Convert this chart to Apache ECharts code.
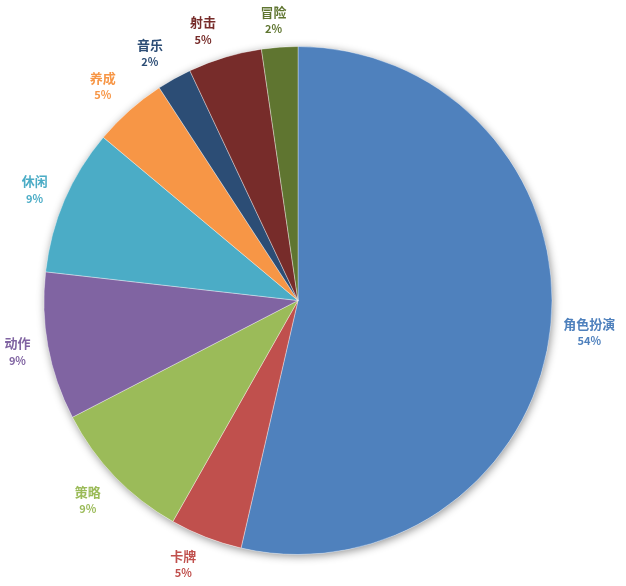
<!DOCTYPE html>
<html><head><meta charset="utf-8">
<script src="https://cdn.jsdelivr.net/npm/echarts@6/dist/echarts.min.js"></script>
<style>html,body{margin:0;padding:0;background:#fff}#c{width:626px;height:586px}</style>
</head><body><div id="c"></div>
<script>
var categories = ['角色扮演','卡牌','策略','动作','休闲','养成','音乐','射击','冒险'];
var values = [53.6, 4.6, 9.2, 9.4, 9.3, 4.7, 2.2, 4.7, 2.3];
var colors = ['#4F81BD','#C0504D','#9BBB59','#8064A2','#4BACC6','#F79646','#2C4D75','#772C2A','#5F7530'];

var CX = 298, CY = 300.5, R = 254, GAP = 13;
var total = values.reduce(function(a,b){return a+b;},0);
var midAngles = [];
(function(){ var acc = 0; for (var i=0;i<values.length;i++){ var a0 = acc/total*360; acc += values[i]; var a1 = acc/total*360; midAngles.push((a0+a1)/2*Math.PI/180);} })();

var chart = echarts.init(document.getElementById('c'), null, {renderer:'canvas'});
var data = categories.map(function(n,i){
  return {name:n, value:values[i], itemStyle:{color:colors[i]},
    label:{rich:{n:{color:colors[i]}, p:{color:colors[i]}}}};
});
chart.setOption({
  animation:false,
  series:[
    {type:'pie', silent:true, center:[CX,CY], radius:R, startAngle:90,
     label:{show:false}, labelLine:{show:false},
     itemStyle:{color:'#ffffff', shadowBlur:9, shadowColor:'rgba(0,0,0,0.42)', shadowOffsetX:1, shadowOffsetY:2},
     data:[{value:1,name:'bg'}]},
    {type:'pie', center:[CX,CY], radius:R, startAngle:90, clockwise:true,
     avoidLabelOverlap:false, percentPrecision:2,
     itemStyle:{borderColor:'rgba(255,255,255,0.6)', borderWidth:0.6},
     labelLine:{show:false},
     label:{show:true, position:'outside', align:'center',
       formatter:function(p){ return '{n|'+p.name+'}\n{p|'+Math.round(p.percent)+'%}'; },
       rich:{
         n:{fontFamily:'"Noto Sans CJK SC"', fontWeight:'bold', fontSize:13, lineHeight:18, align:'center'},
         p:{fontFamily:'"Noto Sans CJK SC"', fontWeight:'bold', fontSize:11, lineHeight:16, align:'center'}
       }},
     labelLayout:function(params){
       var th = midAngles[params.dataIndex];
       var dx = Math.sin(th), dy = -Math.cos(th);
       var hw = Math.max(params.labelRect.width/2, 18), hh = params.labelRect.height/2;
       var ax = CX + dx*(R+GAP), ay = CY + dy*(R+GAP);
       var kx = Math.max(-1, Math.min(1, dx/0.25));
       var ady = Math.abs(dy);
       var ky = (dy < 0 ? -1 : 1) * Math.min(1, Math.max(ady, (ady-0.2)/0.5));
       return {x: ax + kx*hw, y: ay + ky*hh, align:'center', verticalAlign:'middle'};
     },
     data:data}
  ]
});
</script></body></html>
